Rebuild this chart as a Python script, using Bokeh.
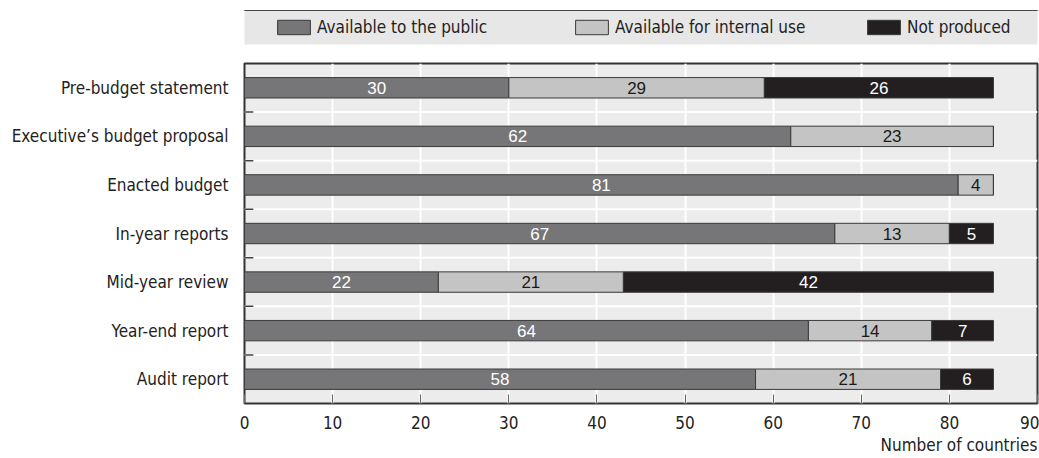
from bokeh.plotting import figure
from bokeh.models import (FactorRange, Range1d, ColumnDataSource, Legend, LegendItem,
                          Title, FixedTicker)
from bokeh.layouts import column
from bokeh.embed import file_html
from bokeh.resources import INLINE
from bokeh.core.properties import value

# ---- data -------------------------------------------------------------
categories = [
    "Pre-budget statement",
    "Executive\u2019s budget proposal",
    "Enacted budget",
    "In-year reports",
    "Mid-year review",
    "Year-end report",
    "Audit report",
]
public = [30, 62, 81, 67, 22, 64, 58]
internal = [29, 23, 4, 13, 21, 14, 21]
not_produced = [26, 0, 0, 5, 42, 7, 6]
series_names = ["Available to the public", "Available for internal use", "Not produced"]
x_ticks = [0, 10, 20, 30, 40, 50, 60, 70, 80, 90]
x_title = "Number of countries"

# ---- styling ----------------------------------------------------------
COND = "DejaVu Sans Condensed"
PLAIN = "Liberation Sans"
FS = "17px"
colors = ["#767678", "#c4c4c4", "#231f20"]
label_colors = ["white", "#1a1a1a", "white"]
EDGE = "#3a3a3a"
INK = "#222222"

# ---- main chart -------------------------------------------------------
p = figure(
    y_range=FactorRange(factors=categories[::-1], range_padding=0),
    x_range=Range1d(0, 90),
    frame_width=793, frame_height=340,
    min_border_left=244, min_border_right=2, min_border_top=11, min_border_bottom=0,
    output_backend="svg", toolbar_location=None,
)
p.background_fill_color = "#ececec"
p.border_fill_color = "white"
p.outline_line_color = "#333333"
p.outline_line_width = 2

p.xgrid.ticker = FixedTicker(ticks=x_ticks)
p.xgrid.grid_line_color = "white"
p.xgrid.grid_line_width = 2
p.ygrid.visible = False

p.xaxis.ticker = FixedTicker(ticks=x_ticks)
p.xaxis.axis_line_color = None
p.xaxis.major_tick_in = 9
p.xaxis.major_tick_out = 0
p.xaxis.major_tick_line_color = "#666666"
p.xaxis.minor_tick_line_color = None
p.xaxis.major_label_standoff = 12
p.xaxis.major_label_text_font = COND
p.xaxis.major_label_text_font_size = FS
p.xaxis.major_label_text_color = INK

p.yaxis.axis_line_color = None
p.yaxis.major_tick_line_color = None
p.yaxis.major_tick_in = 0
p.yaxis.major_tick_out = 0
p.yaxis.major_label_standoff = 16
p.yaxis.major_label_text_font = COND
p.yaxis.major_label_text_font_size = FS
p.yaxis.major_label_text_color = INK

# separators between rows, with short dark ticks at the left edge
bounds = ColumnDataSource(dict(
    y=[(c, -0.5) for c in categories[:-1]],
    x0=[0] * (len(categories) - 1),
    x1=[90] * (len(categories) - 1),
    xt=[1.0] * (len(categories) - 1),
))
p.segment(x0="x0", x1="x1", y0="y", y1="y", source=bounds, line_color="white", line_width=2)
p.segment(x0="x0", x1="xt", y0="y", y1="y", source=bounds, line_color="#444444", line_width=1.5)

# stacked bars
src = ColumnDataSource(dict(cat=categories, a=public, b=internal, c=not_produced))
p.hbar_stack(["a", "b", "c"], y="cat", height=0.42, source=src,
             fill_color=colors, line_color=EDGE, line_width=1)

# value labels in the middle of each segment
series = [public, internal, not_produced]
left = [0] * len(categories)
for vals, tc in zip(series, label_colors):
    xs, ys, ts = [], [], []
    for i, v in enumerate(vals):
        if v > 0:
            xs.append(left[i] + v / 2)
            ys.append(categories[i])
            ts.append(str(v))
        left[i] += v
    p.text(x=xs, y=ys, text=ts, text_align="center", text_baseline="middle",
           text_color=tc, text_font=value(PLAIN), text_font_size=FS)

p.add_layout(Title(text=x_title, align="right", text_font=COND, text_font_size=FS,
                   text_font_style="normal", text_color=INK, standoff=3, offset=0), "below")

# ---- legend band ------------------------------------------------------
lg = figure(
    x_range=Range1d(0, 1), y_range=Range1d(0, 1),
    frame_width=793, frame_height=34,
    min_border_left=244, min_border_right=2, min_border_top=10, min_border_bottom=8,
    output_backend="svg", toolbar_location=None,
)
lg.axis.visible = False
lg.grid.visible = False
lg.outline_line_color = None
lg.background_fill_color = "#e7e7e7"
lg.border_fill_color = "white"

# one legend per entry so each entry can sit at its own spot in the band
entry_x = [29, 327, 619]
for name, col, ex in zip(series_names, colors, entry_x):
    # swatch carrier, kept outside the visible range of the band
    r = lg.hbar(y=[5], right=[1], height=0.5, fill_color=col, line_color=EDGE, line_width=1)
    lg.add_layout(Legend(
        items=[LegendItem(label=name, renderers=[r])], location=(ex, 7),
        padding=0, margin=0, glyph_width=41, glyph_height=18, label_standoff=3,
        label_text_font=COND, label_text_font_size=FS, label_text_color=INK,
        background_fill_alpha=0, border_line_color=None))

layout = column(lg, p, spacing=0)
open("out.html", "w").write(file_html(layout, INLINE))
